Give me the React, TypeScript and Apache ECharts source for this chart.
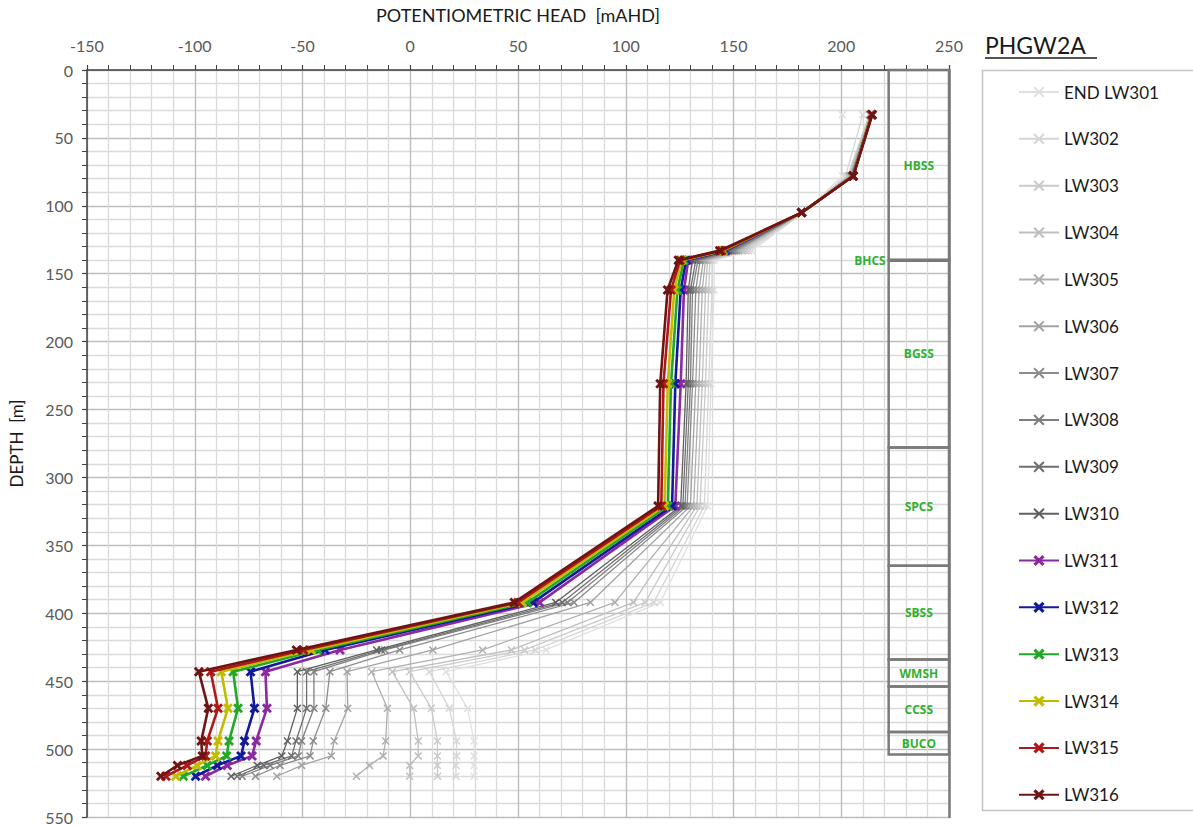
import React, { useEffect, useRef } from "react";
import * as echarts from "echarts";

// Depths (m) of the piezometer nodes, shared by every longwall profile
const DEPTH_M = [33, 78, 105, 133, 140, 162, 231, 321, 392, 427, 443, 470, 494, 505, 512, 520];

// Potentiometric head (mAHD) at each node, after each longwall
const LW301 = [200.5, 200.5, 182.5, 158.5, 141, 141, 139.5, 138, 116, 63, 16.6, 26.6, 29.6, 29.6, 29.6, 29.6];
const LW302 = [210, 202, 182.5, 157, 140, 140, 138.5, 136.5, 113, 58, 8.9, 18.1, 21.5, 21.5, 21.2, 21.2];
const LW303 = [213, 203, 182, 155.5, 139, 138.5, 137, 134.5, 109, 53, -0.3, 9.8, 12.6, 12.6, 12.6, 12.7];
const LW304 = [213.5, 203.5, 182, 154, 138, 137, 135.5, 133, 103.6, 47, -8.3, 1.5, 3.7, 3.7, -0.3, -0.3];
const LW305 = [214, 204, 182, 152.5, 137, 135.5, 134, 131.5, 95, 33.6, -17.9, -10.6, -11.4, -12.6, -18.9, -25];
const LW306 = [214, 204.5, 182, 151.5, 136, 134, 132.5, 130, 83.6, 10.5, -29.3, -29, -35.3, -36.6, -50.4, -61.9];
const LW307 = [214, 204.5, 181.8, 150.5, 134.5, 132.5, 131, 128.5, 76, -4.9, -37.3, -39.2, -45, -46.5, -60.4, -71.8];
const LW308 = [214, 205, 181.8, 149.5, 133.5, 131, 130, 127.5, 73, -11.8, -44.7, -44.7, -50.4, -52, -65, -78];
const LW309 = [214, 205, 181.7, 148.5, 132.5, 130, 129, 126.5, 70.5, -13.4, -48.1, -48.1, -53, -55, -68, -80.3];
const LW310 = [214, 205.2, 181.7, 147.5, 131, 129, 128, 125.5, 67.5, -15.6, -52.4, -52.4, -57, -59.6, -71, -83.1];
const LW311 = [214, 205.4, 181.6, 146.5, 129, 127, 125.5, 123, 60, -32.6, -67.2, -66.5, -71.5, -73.4, -84.9, -95];
const LW312 = [214, 205.5, 181.6, 146, 128, 125.5, 123, 121.5, 57, -39.5, -74.1, -72.3, -76.9, -78.5, -89.5, -99.6];
const LW313 = [214, 205.5, 181.6, 145.5, 127, 124, 121, 119.5, 54.5, -43, -82.2, -79.9, -84.1, -85.2, -94.2, -105.3];
const LW314 = [214, 205.6, 181.6, 145, 126, 122.5, 119.5, 118, 52, -46, -87.7, -84.6, -89.2, -90.3, -98.9, -108.8];
const LW315 = [214.2, 205.6, 181.6, 144.5, 125.2, 121, 117.5, 116.5, 50, -49.5, -92.6, -89.2, -94.2, -95, -103.5, -113.4];
const LW316 = [214.4, 205.6, 181.6, 143.6, 124.4, 119.4, 116, 115, 48.3, -52.8, -98.1, -93.7, -97, -96.5, -108, -115.7];

const SERIES_NAMES = [
  "END LW301", "LW302", "LW303", "LW304", "LW305", "LW306", "LW307", "LW308",
  "LW309", "LW310", "LW311", "LW312", "LW313", "LW314", "LW315", "LW316",
];
const SERIES_VALUES = [
  LW301, LW302, LW303, LW304, LW305, LW306, LW307, LW308,
  LW309, LW310, LW311, LW312, LW313, LW314, LW315, LW316,
];
const SERIES_COLORS = [
  "#e0e0e0", "#d6d6d6", "#cacaca", "#bfbfbf", "#b0b0b0", "#a3a3a3", "#8c8c8c", "#7f7f7f",
  "#6f6f6f", "#606060", "#8c28a0", "#12199c", "#22a826", "#c2bc00", "#b01818", "#6e1414",
];

// Stratigraphic column
const STRATA_NAMES = ["HBSS", "BHCS", "BGSS", "SPCS", "SBSS", "WMSH", "CCSS", "BUCO"];
const STRATA_TOP = [0, 140, 140, 278, 365, 434, 454, 487.5];
const STRATA_BASE = [140, 140, 278, 365, 434, 454, 487.5, 504];
const COLUMN_LEFT = 222;
const COLUMN_RIGHT = 250;

const X_THIN = "path://M0,1.3L1.3,0L5,3.7L8.7,0L10,1.3L6.3,5L10,8.7L8.7,10L5,6.3L1.3,10L0,8.7L3.7,5Z";
const X_BOLD = "path://M0,2L2,0L5,3L8,0L10,2L7,5L10,8L8,10L5,7L2,10L0,8L3,5Z";

const FONT = "Lato, 'Open Sans', sans-serif";

export default function App() {
  const ref = useRef<HTMLDivElement>(null);

  useEffect(() => {
    if (!ref.current) return;
    const chart = echarts.init(ref.current, undefined, { renderer: "svg" });

    const lineSeries = SERIES_NAMES.map((name, k) => {
      const bold = k >= 10;
      return {
        name,
        type: "line",
        data: DEPTH_M.map((d, i) => [SERIES_VALUES[k][i], d]),
        symbol: bold ? X_BOLD : X_THIN,
        symbolSize: bold ? 10 : 8,
        showAllSymbol: true,
        color: SERIES_COLORS[k],
        lineStyle: { color: SERIES_COLORS[k], width: bold ? 2.6 : 1.3 },
        itemStyle: { color: SERIES_COLORS[k] },
        emphasis: { disabled: true },
        z: 3 + k,
      };
    });

    const strataSeries = {
      type: "custom",
      name: "strata",
      silent: true,
      z: 2,
      data: STRATA_NAMES.map((_, i) => [COLUMN_LEFT, STRATA_TOP[i], STRATA_BASE[i]]),
      encode: { x: 0, y: [1, 2] },
      renderItem: (params: any, api: any) => {
        const i = params.dataIndex;
        const top = api.value(1);
        const base = api.value(2);
        const p0 = api.coord([COLUMN_LEFT, top]);
        const p1 = api.coord([COLUMN_RIGHT, base]);
        const labelStyle = {
          text: STRATA_NAMES[i],
          fill: "#2fb12f",
          fontSize: 12,
          fontWeight: "bold",
          fontFamily: "'Open Sans', sans-serif",
          verticalAlign: "middle",
        };
        if (top === base) {
          return {
            type: "group",
            children: [
              {
                type: "line",
                shape: { x1: p0[0], y1: p0[1], x2: p1[0], y2: p0[1] },
                style: { stroke: "#6f6f6f", lineWidth: 3.5 },
              },
              {
                type: "text",
                x: p0[0] - 3,
                y: p0[1],
                style: { ...labelStyle, align: "right" },
              },
            ],
          };
        }
        return {
          type: "group",
          children: [
            {
              type: "rect",
              shape: { x: p0[0], y: p0[1], width: p1[0] - p0[0], height: p1[1] - p0[1] },
              style: { fill: "none", stroke: "#7a7a7a", lineWidth: 2.5 },
            },
            {
              type: "text",
              x: (p0[0] + p1[0]) / 2,
              y: (p0[1] + p1[1]) / 2,
              style: { ...labelStyle, align: "center" },
            },
          ],
        };
      },
    };

    chart.setOption({
      animation: false,
      backgroundColor: "#ffffff",
      grid: { left: 82, right: 244, top: 70, bottom: 7, containLabel: false },
      xAxis: {
        type: "value",
        position: "top",
        min: -150,
        max: 250,
        interval: 50,
        name: "POTENTIOMETRIC HEAD  [mAHD]",
        nameLocation: "middle",
        nameGap: 46,
        nameTextStyle: { fontSize: 18, fontFamily: FONT, color: "#1a1a1a" },
        axisLine: { show: true, onZero: false, lineStyle: { color: "#404040", width: 1.5 } },
        axisTick: { show: true, length: 5, lineStyle: { color: "#404040", width: 1.2 } },
        minorTick: { show: true, splitNumber: 5, length: 5, lineStyle: { color: "#404040", width: 1 } },
        axisLabel: { fontSize: 16, fontFamily: FONT, color: "#595959", margin: 17 },
        splitLine: { show: true, lineStyle: { color: "#bdbdbd", width: 1.4 } },
        minorSplitLine: { show: true, lineStyle: { color: "#dadada", width: 1.3 } },
      },
      yAxis: [
        {
          type: "value",
          inverse: true,
          min: 0,
          max: 550,
          interval: 50,
          name: "DEPTH  [m]",
          nameLocation: "middle",
          nameGap: 62,
          nameRotate: 90,
          nameTextStyle: { fontSize: 17, fontFamily: FONT, color: "#1a1a1a" },
          axisLine: { show: true, onZero: false, lineStyle: { color: "#404040", width: 1.5 } },
          axisTick: { show: true, length: 5, lineStyle: { color: "#404040", width: 1.2 } },
          minorTick: { show: true, splitNumber: 5, length: 5, lineStyle: { color: "#404040", width: 1 } },
          axisLabel: { fontSize: 16, fontFamily: FONT, color: "#595959", margin: 14 },
          splitLine: { show: true, lineStyle: { color: "#bdbdbd", width: 1.4 } },
          minorSplitLine: { show: true, lineStyle: { color: "#dadada", width: 1.3 } },
        },
        {
          type: "value",
          position: "right",
          inverse: true,
          min: 0,
          max: 550,
          axisLine: { show: true, onZero: false, lineStyle: { color: "#7a7a7a", width: 2.5 } },
          axisTick: { show: false },
          axisLabel: { show: false },
          splitLine: { show: false },
        },
      ],
      legend: {
        orient: "vertical",
        left: 1018,
        top: 82,
        padding: 0,
        itemWidth: 40,
        itemHeight: 14,
        itemGap: 26.85,
        selectedMode: false,
        data: SERIES_NAMES,
        textStyle: { fontSize: 17, fontFamily: FONT, color: "#1a1a1a", lineHeight: 20 },
      },
      graphic: [
        {
          type: "rect",
          left: 980,
          top: 68,
          shape: { width: 240, height: 740 },
          style: { fill: "none", stroke: "#c4c4c4", lineWidth: 1.5 },
          silent: true,
        },
        {
          type: "text",
          left: 985,
          top: 33,
          style: { text: "PHGW2A", fontSize: 23, fontFamily: FONT, fill: "#1a1a1a" },
        },
        {
          type: "line",
          shape: { x1: 985, y1: 58, x2: 1097, y2: 58 },
          style: { stroke: "#1a1a1a", lineWidth: 1.5 },
        },
      ],
      series: [strataSeries, ...lineSeries],
    });

    return () => chart.dispose();
  }, []);

  return (
    <div
      ref={ref}
      style={{ position: "fixed", left: 0, top: 0, width: 1193, height: 825, background: "#fff" }}
    />
  );
}
